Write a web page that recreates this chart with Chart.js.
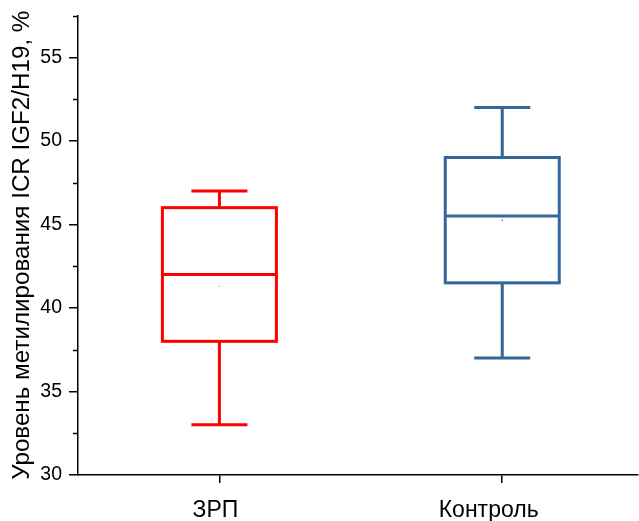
<!DOCTYPE html>
<html>
<head>
<meta charset="utf-8">
<script src="https://cdn.jsdelivr.net/npm/chart.js@4"></script>
<style>
  html, body { margin: 0; padding: 0; background: #fff; }
  #wrap { width: 639px; height: 521px; }
</style>
</head>
<body>
<div id="wrap"><canvas id="boxChart" width="639" height="521"></canvas></div>
<script>
// Box plot data
const groups = ['ЗРП', 'Контроль'];
const whiskerLow = [33, 37];
const q1 = [38, 41.5];
const median = [42, 45.5];
const q3 = [46, 49];
const whiskerHigh = [47, 52];
const means = [41.3, 45.25];
const colors = ['#ff0000', '#35669a'];
const yTicks = [30, 35, 40, 45, 50, 55];
const yMinorTicks = [32.5, 37.5, 42.5, 47.5, 52.5, 57.5];

const BOX_W = 114;
const CAP_W = 56;
const LINE_W = 3;

// draws boxes, whiskers, medians through the scales
const boxPlugin = {
    id: 'boxes',
    afterDatasetsDraw(chart) {
        const ctx = chart.ctx;
        const xs = chart.scales.x, ys = chart.scales.y;
        ctx.save();
        ctx.lineWidth = LINE_W;
        ctx.lineCap = 'butt';
        groups.forEach((g, i) => {
            const cx = xs.getPixelForValue(i + 1);
            const yLo = ys.getPixelForValue(whiskerLow[i]);
            const yQ1 = ys.getPixelForValue(q1[i]);
            const yMed = ys.getPixelForValue(median[i]);
            const yQ3 = ys.getPixelForValue(q3[i]);
            const yHi = ys.getPixelForValue(whiskerHigh[i]);
            ctx.strokeStyle = colors[i];
            ctx.beginPath();
            // whiskers
            ctx.moveTo(cx, yHi); ctx.lineTo(cx, yQ3);
            ctx.moveTo(cx, yQ1); ctx.lineTo(cx, yLo);
            ctx.moveTo(cx - CAP_W / 2, yHi); ctx.lineTo(cx + CAP_W / 2, yHi);
            ctx.moveTo(cx - CAP_W / 2, yLo); ctx.lineTo(cx + CAP_W / 2, yLo);
            // median
            ctx.moveTo(cx - BOX_W / 2, yMed); ctx.lineTo(cx + BOX_W / 2, yMed);
            ctx.stroke();
            ctx.strokeRect(cx - BOX_W / 2, yQ3, BOX_W, yQ1 - yQ3);
        });
        ctx.restore();
    }
};

// minor ticks on the y axis
const minorTicks = {
    id: 'minorTicks',
    afterDraw(chart) {
        const ctx = chart.ctx;
        const ys = chart.scales.y;
        const left = chart.chartArea.left;
        ctx.save();
        ctx.strokeStyle = '#000';
        ctx.lineWidth = 1.5;
        ctx.beginPath();
        yMinorTicks.forEach(v => {
            const y = Math.round(ys.getPixelForValue(v)) + 0.5;
            ctx.moveTo(left - 5, y); ctx.lineTo(left, y);
        });
        ctx.stroke();
        ctx.restore();
    }
};

function noAutoPadding(s) {
    s.paddingTop = 0; s.paddingBottom = 0;
    s.paddingLeft = 0; s.paddingRight = 0;
}

new Chart(document.getElementById('boxChart'), {
    type: 'scatter',
    data: {
        datasets: [{
            data: means.map((m, i) => ({ x: i + 1, y: m })),
            pointRadius: 0.8,
            pointBorderWidth: 0,
            pointBackgroundColor: ['#ff8080', '#35669a']
        }]
    },
    options: {
        responsive: false,
        animation: false,
        layout: { autoPadding: false, padding: { top: 15.5, right: 1, left: 0, bottom: 0 } },
        plugins: { legend: { display: false }, tooltip: { enabled: false } },
        scales: {
            x: {
                type: 'linear',
                min: 0.5,
                max: 2.48,
                afterBuildTicks: s => { s.ticks = [{ value: 1 }, { value: 2 }]; },
                afterFit: s => { s.height = 46; noAutoPadding(s); },
                border: { color: '#000', width: 1.5 },
                grid: { drawOnChartArea: false, color: '#000', lineWidth: 1.5, tickLength: 8 },
                ticks: {
                    color: '#000',
                    padding: 14,
                    labelOffset: -4,
                    font: { family: 'Liberation Sans, Arial, sans-serif', size: 23 },
                    // the second label sits a bit left of its tick in the original
                    callback: v => v === 2 ? groups[v - 1] + '   ' : groups[v - 1]
                }
            },
            y: {
                min: 30,
                max: 57.5,
                afterBuildTicks: s => { s.ticks = yTicks.map(v => ({ value: v })); },
                afterFit: s => { s.width = 78; noAutoPadding(s); },
                border: { color: '#000', width: 1.5 },
                grid: { drawOnChartArea: false, color: '#000', lineWidth: 1.5, tickLength: 9 },
                ticks: {
                    color: '#000',
                    padding: 7,
                    font: { family: 'Liberation Sans, Arial, sans-serif', size: 19.5 }
                },
                title: {
                    display: true,
                    text: 'Уровень метилирования ICR IGF2/H19, %',
                    color: '#000',
                    padding: { top: 8, bottom: 0 },
                    font: { family: 'Liberation Sans, Arial, sans-serif', size: 24.2 }
                }
            }
        }
    },
    plugins: [boxPlugin, minorTicks]
});
</script>
</body>
</html>
